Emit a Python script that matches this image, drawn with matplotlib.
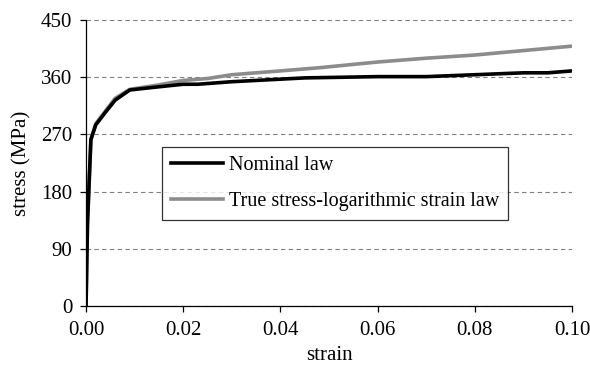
import matplotlib
matplotlib.use("Agg")
import matplotlib.pyplot as plt

strain_nom = [0.0, 0.0003, 0.001, 0.002, 0.004, 0.006, 0.009, 0.015, 0.02, 0.023, 0.03, 0.04, 0.045, 0.06, 0.07, 0.08, 0.09, 0.095, 0.1]
stress_nom = [0, 130, 262, 285, 305, 324, 340, 345, 349, 349, 353, 357, 359, 361, 361, 364, 367, 367, 370]
strain_true = [0.0, 0.0003, 0.001, 0.002, 0.004, 0.006, 0.009, 0.015, 0.02, 0.025, 0.03, 0.04, 0.048, 0.06, 0.07, 0.08, 0.09, 0.1]
stress_true = [0, 130, 262, 287, 307, 327, 341, 348, 355, 358, 364, 370, 375, 384, 390, 395, 402, 409]

yticks = [0, 90, 180, 270, 360, 450]
xticks = [0.0, 0.02, 0.04, 0.06, 0.08, 0.10]

plt.rcParams['font.family'] = ['Liberation Serif', 'DejaVu Serif']
fig = plt.figure(figsize=(5.9, 3.65), dpi=100)
ax = fig.add_axes([0.1458, 0.1616, 0.8237, 0.7834])

ax.plot(strain_nom, stress_nom, color='black', lw=2.6, label='Nominal law', zorder=3)
ax.plot(strain_true, stress_true, color='#8c8c8c', lw=2.6, label='True stress-logarithmic strain law', zorder=2)

ax.set_xlim(0, 0.1)
ax.set_ylim(0, 450)
ax.set_yticks(yticks)
ax.set_xticks(xticks)
ax.set_xticklabels([f"{v:.2f}" for v in xticks], fontsize=15)
ax.set_yticklabels([str(v) for v in yticks], fontsize=15)
ax.yaxis.grid(True, linestyle=(0, (4, 3)), color='#808080', lw=0.8)
ax.set_axisbelow(True)
for s in ['top', 'right']:
    ax.spines[s].set_visible(False)
ax.spines['left'].set_linewidth(0.9)
ax.spines['bottom'].set_linewidth(0.9)
ax.tick_params(axis='x', direction='out', length=4, width=0.9, pad=7)
ax.tick_params(axis='y', direction='out', length=4, width=0.9, pad=6)
ax.set_xlabel('strain', fontsize=15, labelpad=4)
ax.set_ylabel('stress (MPa)', fontsize=15, labelpad=7)

leg = ax.legend(loc='lower left', bbox_to_anchor=(0.156, 0.30, 0.712, 0.26), mode='expand',
                fontsize=14.5, frameon=True, fancybox=False, edgecolor='black',
                handlelength=2.6, handletextpad=0.3, borderaxespad=0, labelspacing=0.85,
                borderpad=0.45)
leg.get_frame().set_linewidth(0.9)

fig.savefig('out.png', dpi=100)
